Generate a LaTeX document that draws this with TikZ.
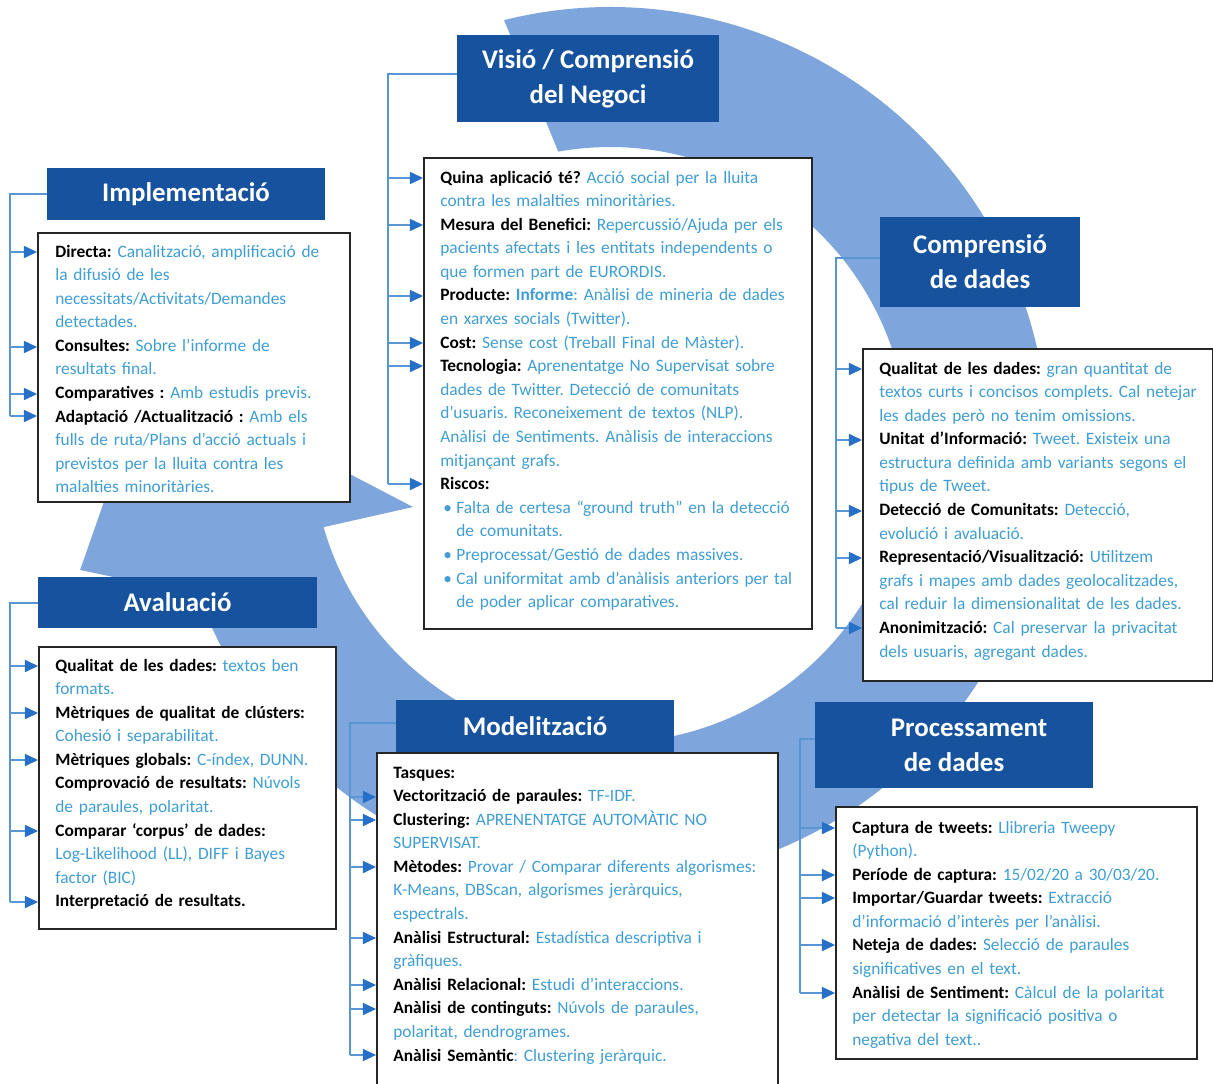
\documentclass[tikz,border=0pt]{standalone}
\usepackage{fontspec}
\setmainfont{Carlito}
\usetikzlibrary{arrows.meta}
\frenchspacing

\definecolor{ringblue}{RGB}{126,166,220}
\definecolor{phaseblue}{RGB}{22,82,158}
\definecolor{railblue}{RGB}{88,150,210}
\definecolor{tipblue}{RGB}{38,112,200}
\definecolor{valblue}{RGB}{64,158,212}

\newcommand*{\lab}[1]{\textbf{#1}}
\newcommand*{\val}[1]{\textcolor{valblue}{#1}}
\newcommand*{\bul}{\makebox[0.32cm][l]{\hspace{0.06cm}\val{\textbullet}}}
\newcommand*{\ind}{\hspace*{0.32cm}}

\tikzset{
  phase/.style={fill=phaseblue, text=white, inner sep=0pt, align=center,
    font=\bfseries\fontsize{15.3}{19.9}\selectfont},
  panel/.style={draw=black!85, line width=1.1pt, fill=white, inner sep=0pt,
    anchor=north west},
  items/.style={anchor=base west, inner sep=0pt, text width=7.6cm, align=left,
    font=\fontsize{9.88}{13.43}\selectfont},
  rail/.style={draw=railblue, line width=0.6pt},
  feed/.style={rail, -{Triangle[length=7.5pt, width=7pt, color=tipblue]}},
}

\begin{document}
\begin{tikzpicture}[x=0.02cm, y=-0.02cm]
  \useasboundingbox (0,0) rectangle (1213,1083);

  % the cycle
  \begin{scope}[shift={(610,445)}]
    \fill[ringblue] (104:8.76cm) arc[start angle=104, end angle=-160, radius=8.76cm]
      -- (-10.6cm,-2.5cm) -- (-9.2cm,1.5cm) -- (-3.94cm,-1.24cm)
      -- (-164:5.96cm) arc[start angle=-164, end angle=100, radius=5.96cm] -- cycle;
  \end{scope}

  % phase titles
  \node[phase, minimum width=5.56cm, minimum height=1.04cm] (implT) at (186,194) {Implementació};
  \node[phase, minimum width=5.24cm, minimum height=1.74cm] (visioT) at (588,78.5) {Visió / Comprensió\\del Negoci};
  \node[phase, minimum width=4.0cm, minimum height=1.8cm] (comprT) at (980,262) {Comprensió\\de dades};
  \node[phase, minimum width=5.58cm, minimum height=1.02cm] (avalT) at (177.5,602.5) {Avaluació};
  \node[phase, minimum width=5.56cm, minimum height=1.04cm] (modelT) at (535,726) {Modelització};
  \node[phase, minimum width=5.56cm, minimum height=1.72cm] (procT) at (954,745) {\hspace*{0.6cm}Processament\\de dades};

  % panels
  \node[panel, minimum width=6.24cm, minimum height=5.38cm] (implB) at (37,232) {};
  \node[panel, minimum width=7.76cm, minimum height=9.42cm] (visioB) at (423,157) {};
  \node[panel, minimum width=7.0cm, minimum height=6.64cm] (comprB) at (862,348) {};
  \node[panel, minimum width=5.94cm, minimum height=5.64cm] (avalB) at (38,646) {};
  \node[panel, minimum width=8.02cm, minimum height=6.8cm] (modelB) at (376,752) {};
  \node[panel, minimum width=7.22cm, minimum height=5.04cm] (procB) at (835,806) {};

  % texts
  \node[items] (implTxt) at (55,257) {%
    \lab{Directa:} \val{Canalització, amplificació de}\\
    \val{la difusió de les}\\
    \val{necessitats/Activitats/Demandes}\\
    \val{detectades.}\\
    \lab{Consultes:} \val{Sobre l’informe de}\\
    \val{resultats final.}\\
    \lab{Comparatives :} \val{Amb estudis previs.}\\
    \lab{Adaptació /Actualització :} \val{Amb els}\\
    \val{fulls de ruta/Plans d’acció actuals i}\\
    \val{previstos per la lluita contra les}\\
    \val{malalties minoritàries.}};
  \node[items] (visioTxt) at (440,183) {%
    \lab{Quina aplicació té?} \val{Acció social per la lluita}\\
    \val{contra les malalties minoritàries.}\\
    \lab{Mesura del Benefici:} \val{Repercussió/Ajuda per els}\\
    \val{pacients afectats i les entitats independents o}\\
    \val{que formen part de EURORDIS.}\\
    \lab{Producte:} \val{\textbf{Informe}: Anàlisi de mineria de dades}\\
    \val{en xarxes socials (Twitter).}\\
    \lab{Cost:} \val{Sense cost (Treball Final de Màster).}\\
    \lab{Tecnologia:} \val{Aprenentatge No Supervisat sobre}\\
    \val{dades de Twitter. Detecció de comunitats}\\
    \val{d’usuaris. Reconeixement de textos (NLP).}\\
    \val{Anàlisi de Sentiments. Anàlisis de interaccions}\\
    \val{mitjançant grafs.}\\
    \lab{Riscos:}\\
    \bul\val{Falta de certesa “ground truth” en la detecció}\\
    \ind\val{de comunitats.}\\
    \bul\val{Preprocessat/Gestió de dades massives.}\\
    \bul\val{Cal uniformitat amb d’anàlisis anteriors per tal}\\
    \ind\val{de poder aplicar comparatives.}};
  \node[items] (comprTxt) at (879,374) {%
    \lab{Qualitat de les dades:} \val{gran quantitat de}\\
    \val{textos curts i concisos complets. Cal netejar}\\
    \val{les dades però no tenim omissions.}\\
    \lab{Unitat d’Informació:} \val{Tweet. Existeix una}\\
    \val{estructura definida amb variants segons el}\\
    \val{tipus de Tweet.}\\
    \lab{Detecció de Comunitats:} \val{Detecció,}\\
    \val{evolució i avaluació.}\\
    \lab{Representació/Visualització:} \val{Utilitzem}\\
    \val{grafs i mapes amb dades geolocalitzades,}\\
    \val{cal reduir la dimensionalitat de les dades.}\\
    \lab{Anonimització:} \val{Cal preservar la privacitat}\\
    \val{dels usuaris, agregant dades.}};
  \node[items] (avalTxt) at (55,671) {%
    \lab{Qualitat de les dades:} \val{textos ben}\\
    \val{formats.}\\
    \lab{Mètriques de qualitat de clústers:}\\
    \val{Cohesió i separabilitat.}\\
    \lab{Mètriques globals:} \val{C-índex, DUNN.}\\
    \lab{Comprovació de resultats:} \val{Núvols}\\
    \val{de paraules, polaritat.}\\
    \lab{Comparar ‘corpus’ de dades:}\\
    \val{Log-Likelihood (LL), DIFF i Bayes}\\
    \val{factor (BIC)}\\
    \lab{Interpretació de resultats.}};
  \node[items] (modelTxt) at (393,778) {%
    \lab{Tasques:}\\
    \lab{Vectorització de paraules:} \val{TF-IDF.}\\
    \lab{Clustering:} \val{APRENENTATGE AUTOMÀTIC NO}\\
    \val{SUPERVISAT.}\\
    \lab{Mètodes:} \val{Provar / Comparar diferents algorismes:}\\
    \val{K-Means, DBScan, algorismes jeràrquics,}\\
    \val{espectrals.}\\
    \lab{Anàlisi Estructural:} \val{Estadística descriptiva i}\\
    \val{gràfiques.}\\
    \lab{Anàlisi Relacional:} \val{Estudi d’interaccions.}\\
    \lab{Anàlisi de continguts:} \val{Núvols de paraules,}\\
    \val{polaritat, dendrogrames.}\\
    \lab{Anàlisi Semàntic}\val{: Clustering jeràrquic.}};
  \node[items] (procTxt) at (852,833) {%
    \lab{Captura de tweets:} \val{Llibreria Tweepy}\\
    \val{(Python).}\\
    \lab{Període de captura:} \val{15/02/20 a 30/03/20.}\\
    \lab{Importar/Guardar tweets:} \val{Extracció}\\
    \val{d’informació d’interès per l’anàlisi.}\\
    \lab{Neteja de dades:} \val{Selecció de paraules}\\
    \val{significatives en el text.}\\
    \lab{Anàlisi de Sentiment:} \val{Càlcul de la polaritat}\\
    \val{per detectar la significació positiva o}\\
    \val{negativa del text..}};

  % rails and feeds
  \coordinate (implR) at (10,194);
  \coordinate (visioR) at (388,74);
  \coordinate (comprR) at (836,258);
  \coordinate (avalR) at (10,603);
  \coordinate (modelR) at (350,723);
  \coordinate (procR) at (800,739);

  \draw[rail] (implT.west) -- (implR) -- (implR |- 0,416);
  \foreach \y in {252,347,394,416}
    \draw[feed] (implR |- 0,\y) -- (implB.west |- 0,\y);

  \draw[rail] (visioT.west |- visioR) -- (visioR) -- (visioR |- 0,484);
  \foreach \y in {178,225,296,343,366,484}
    \draw[feed] (visioR |- 0,\y) -- (visioB.west |- 0,\y);

  \draw[rail] (comprT.west |- comprR) -- (comprR) -- (comprR |- 0,628);
  \foreach \y in {369,440,511,558,628}
    \draw[feed] (comprR |- 0,\y) -- (comprB.west |- 0,\y);

  \draw[rail] (avalT.west |- avalR) -- (avalR) -- (avalR |- 0,902);
  \foreach \y in {666,713,760,831,902}
    \draw[feed] (avalR |- 0,\y) -- (avalB.west |- 0,\y);

  \draw[rail] (modelT.west |- modelR) -- (modelR) -- (modelR |- 0,1055);
  \foreach \y in {797,820,867,938,985,1009,1055}
    \draw[feed] (modelR |- 0,\y) -- (modelB.west |- 0,\y);

  \draw[rail] (procT.west |- procR) -- (procR) -- (procR |- 0,993);
  \foreach \y in {828,875,898,945,993}
    \draw[feed] (procR |- 0,\y) -- (procB.west |- 0,\y);
\end{tikzpicture}
\end{document}
